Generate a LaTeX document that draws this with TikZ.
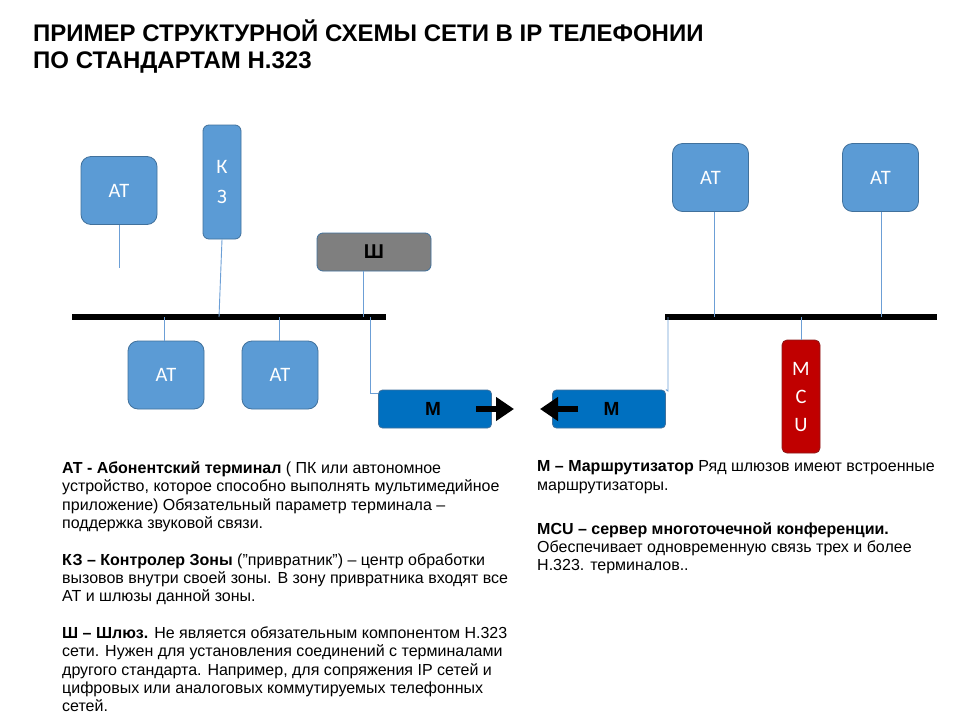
\documentclass[tikz,border=0pt]{standalone}
\usepackage{fontspec}
\setmainfont{Liberation Sans}
\newfontfamily\carl{Carlito}
\usetikzlibrary{arrows.meta}
\definecolor{atblue}{HTML}{5B9BD5}
\definecolor{atedge}{HTML}{41719C}
\definecolor{mblue}{HTML}{0070C0}
\definecolor{gwgray}{HTML}{7F7F7F}
\definecolor{mcured}{HTML}{C00000}
\definecolor{mcuedge}{HTML}{8C1A1A}
\definecolor{connc}{HTML}{6C9FD6}
\tikzset{
  atbox/.style={draw=atedge, line width=0.8pt, fill=atblue, rounded corners=10pt,
    minimum width=76pt, minimum height=68pt, inner sep=0pt, text=white,
    font=\carl\fontsize{20.5}{20.5}\selectfont},
  kzbox/.style={draw=atedge, line width=0.8pt, fill=atblue, rounded corners=6pt,
    minimum width=38pt, minimum height=114pt, inner sep=0pt, text=white, align=center,
    font=\carl\fontsize{20.5}{30}\selectfont},
  gwbox/.style={draw=atedge, line width=0.8pt, fill=gwgray, rounded corners=6pt,
    minimum width=114pt, minimum height=38pt, inner sep=0pt, text=black,
    font=\bfseries\fontsize{20}{20}\selectfont},
  mbox/.style={draw=atedge, line width=0.8pt, fill=mblue, rounded corners=4pt,
    minimum width=113pt, minimum height=38pt, inner sep=0pt, text=black,
    font=\bfseries\fontsize{19}{19}\selectfont},
  mcubox/.style={draw=mcuedge, line width=0.8pt, fill=mcured, rounded corners=5pt,
    minimum width=38pt, minimum height=113pt, inner sep=0pt, text=white, align=center,
    font=\carl\fontsize{20.5}{28}\selectfont},
  bus/.style={line width=5.5pt, black},
  conn/.style={draw=connc, line width=0.9pt},
  bigarrow/.style={line width=6.5pt, black, -{Triangle[length=18pt,width=23pt]}},
  legend/.style={anchor=north west, inner sep=0pt, align=left,
    font=\fontsize{16}{18.33}\selectfont},
  title/.style={anchor=north west, inner sep=0pt, align=left,
    font=\bfseries\fontsize{24}{27}\selectfont}
}
\begin{document}
\begin{tikzpicture}[x=1pt,y=-1pt]
\useasboundingbox[fill=white] (0,0) rectangle (960,720);

\node[title] (title) at (33,19.4) {\strut ПРИМЕР СТРУКТУРНОЙ СХЕМЫ СЕТИ В IP ТЕЛЕФОНИИ\\ПО СТАНДАРТАМ Н.323};

% buses
\coordinate (bl1) at (72,317);
\coordinate (bl2) at (386,317);
\coordinate (br1) at (665,317);
\coordinate (br2) at (937,317);
\draw[bus] (bl1) -- (bl2);
\draw[bus] (br1) -- (br2);

% left segment
\node[atbox] (at1) at (119,190.5) {АТ};
\node[kzbox] (kz) at (222,182) {К\\З};
\node[gwbox] (gw) at (374,252) {Ш};
\node[atbox] (at2) at (166,375) {АТ};
\node[atbox] (at3) at (280,375) {АТ};
\node[mbox] (m1) at (435,409) {\hspace*{-4pt}М};

\coordinate (at1end) at (119,268);
\coordinate (kzend) at (219,317);
\draw[conn] (at1.south) -- (at1end);
\draw[conn] (kz.south) -- (kzend);
\draw[conn] (gw.south -| 363,0) -- (363,317);
\draw[conn] (at2.north -| 164,0) -- (164,317);
\draw[conn] (at3.north -| 279,0) -- (279,317);
\draw[conn] (370,317) -- (370,393) -- (m1.west |- 0,393);

% right segment
\node[atbox] (at4) at (710.5,177.5) {АТ};
\node[atbox] (at5) at (880.5,177.5) {АТ};
\node[mcubox] (mcu) at (801,396.5) {M\\C\\U};
\node[mbox] (m2) at (609,409) {\hspace*{5pt}М};
\draw[conn] (at4.south -| 714,0) -- (714,317);
\draw[conn] (at5.south -| 881,0) -- (881,317);
\draw[conn] (801,317) -- (mcu.north);
\draw[conn] (668,317) -- (668,391) -- (m2.north east);

% arrows
\coordinate (a1s) at (476,409);
\coordinate (a1e) at (514,409);
\coordinate (a2s) at (578,409);
\coordinate (a2e) at (540,409);
\draw[bigarrow] (a1s) -- (a1e);
\draw[bigarrow] (a2s) -- (a2e);

% legends
\node[legend] (legL) at (62,460.5) {\strut
\textbf{АТ - Абонентский терминал} ( ПК или  автономное\\
устройство, которое способно выполнять мультимедийное\\
приложение)  Обязательный параметр терминала –\\
поддержка звуковой связи.\\[18.33pt]
\textbf{КЗ – Контролер Зоны} (”привратник”)  – центр обработки\\
вызовов внутри своей зоны. В зону привратника  входят все\\
АТ и шлюзы  данной  зоны.\\[18.33pt]
\textbf{Ш – Шлюз.} Не является обязательным компонентом Н.323\\
сети. Нужен для установления  соединений  с терминалами\\
другого стандарта. Например, для сопряжения IP сетей и\\
цифровых или  аналоговых коммутируемых  телефонных\\
сетей.};

\node[legend] (legR1) at (537,458.9) {\strut
\textbf{М – Маршрутизатор} Ряд шлюзов  имеют  встроенные\\
маршрутизаторы.};
\node[legend] (legR2) at (537,521.2) {\strut
\textbf{MCU – сервер многоточечной конференции.}\\
Обеспечивает  одновременную  связь трех и более\\
Н.323. терминалов..};
\end{tikzpicture}
\end{document}
